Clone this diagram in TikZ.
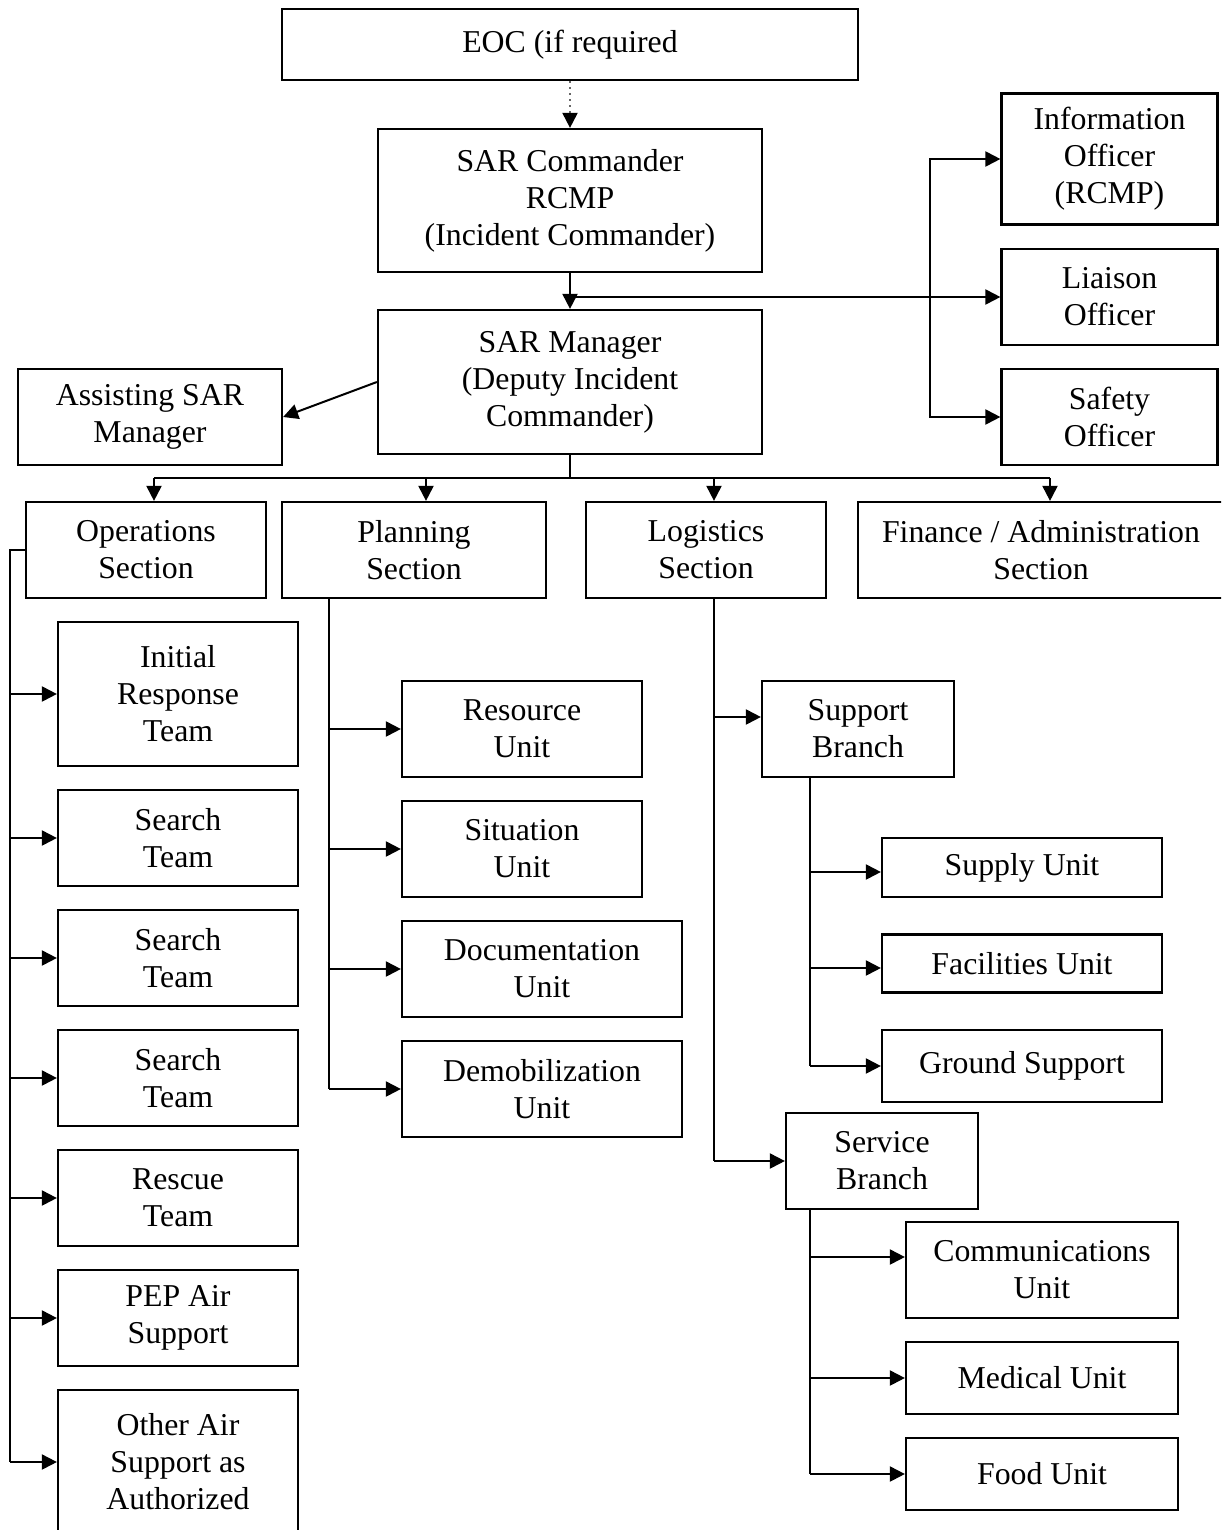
\documentclass[tikz,border=0pt]{standalone}
\usepackage{fontspec}
\setmainfont{Liberation Serif}
\usetikzlibrary{arrows.meta}

\begin{document}
\begin{tikzpicture}[x=0.5pt,y=-0.5pt,
  box/.style={draw, line width=1.1pt, fill=white, inner sep=0pt, align=center,
    font={\fontsize{15.9pt}{18.5pt}\selectfont}},
  sz/.style 2 args={minimum width={#1*0.5pt}, minimum height={#2*0.5pt}},
  line/.style={line width=1pt},
  arr/.style={line width=1pt, -{Triangle[length=7.5pt,width=7.5pt]}},
  darr/.style={line width=1pt, {Triangle[length=7.5pt,width=7.5pt]}-{Triangle[length=7.5pt,width=7.5pt]}},
  dotarr/.style={line width=1pt, dotted, draw=black!60, -{Triangle[length=7.5pt,width=7.5pt,color=black]}}]

\useasboundingbox (0,0) rectangle (1221,1530);
\clip (0,0) rectangle (1221,1530);
\fill[white] (0,0) rectangle (1221,1530);

% command level
\node[box, sz={576}{71}]  (eoc)  at (570,44.5) {EOC (if required};
\node[box, sz={384}{143}] (cmd)  at (570,200.5) {SAR Commander\\RCMP\\(Incident Commander)};
\node[box, sz={384}{144}] (mgr)  at (570,382) {SAR Manager\\(Deputy Incident\\Commander)};
\node[box, sz={264}{96}]  (asst) at (150,417) {Assisting SAR\\Manager};

% command staff
\node[box, sz={216}{131}] (info) at (1109.5,159) {Information\\Officer\\(RCMP)};
\node[box, sz={216}{96}]  (liai) at (1109.5,297) {Liaison\\Officer};
\node[box, sz={216}{96}]  (safe) at (1109.5,417) {Safety\\Officer};

% sections
\node[box, sz={240}{96}] (ops)  at (146,550) {Operations\\Section};
\node[box, sz={264}{96}] (plan) at (414,550) {Planning\\Section};
\node[box, sz={240}{96}] (logi) at (706,550) {Logistics\\Section};
\node[box, sz={366}{96}] (fin)  at (1041,550) {Finance / Administration\\Section};

% operations teams
\node[box, sz={240}{144}] (irt)    at (178,694)  {Initial\\Response\\Team};
\node[box, sz={240}{96}]  (st1)    at (178,838)  {Search\\Team};
\node[box, sz={240}{96}]  (st2)    at (178,958)  {Search\\Team};
\node[box, sz={240}{96}]  (st3)    at (178,1078) {Search\\Team};
\node[box, sz={240}{96}]  (rescue) at (178,1198) {Rescue\\Team};
\node[box, sz={240}{96}]  (pep)    at (178,1318) {PEP Air\\Support};
\node[box, sz={240}{144}] (oas)    at (178,1462) {Other Air\\Support as\\Authorized};

% planning units
\node[box, sz={240}{96}] (res)   at (522,729)  {Resource\\Unit};
\node[box, sz={240}{96}] (sit)   at (522,849)  {Situation\\Unit};
\node[box, sz={280}{96}] (doc)   at (542,969)  {Documentation\\Unit};
\node[box, sz={280}{96}] (demob) at (542,1089) {Demobilization\\Unit};

% logistics branches and units
\node[box, sz={192}{96}] (supb)   at (858,729)    {Support\\Branch};
\node[box, sz={280}{59}] (supply) at (1022,867.5) {Supply Unit};
\node[box, sz={280}{58}] (fac)    at (1022,963.5) {Facilities Unit};
\node[box, sz={280}{72}] (ground) at (1022,1066)  {Ground Support};
\node[box, sz={192}{96}] (servb)  at (882,1161)   {Service\\Branch};
\node[box, sz={272}{96}] (comm)   at (1042,1270)  {Communications\\Unit};
\node[box, sz={272}{72}] (med)    at (1042,1378)  {Medical Unit};
\node[box, sz={272}{72}] (food)   at (1042,1474)  {Food Unit};

% command chain
\draw[dotarr] (eoc) -- (cmd);
\draw[arr] (cmd) -- (mgr);
\draw[arr] (cmd.south |- liai) -- (liai);
\coordinate (vbar) at (930,0);
\draw[darr] (info.west) -- (vbar |- info.west) -- (vbar |- safe.west) -- (safe.west);
\draw[arr] (mgr.west) -- (asst.east);

% bus to the sections
\coordinate (bus) at (570,478);
\coordinate (opsin)  at ([xshift=4pt]ops.north);
\coordinate (planin) at ([xshift=6pt]plan.north);
\coordinate (logiin) at ([xshift=4pt]logi.north);
\coordinate (finin)  at ([xshift=4.5pt]fin.north);
\draw[line] (mgr.south) -- (bus);
\draw[line] (opsin |- bus) -- (finin |- bus);
\foreach \n in {opsin,planin,logiin,finin}
  \draw[arr] (\n |- bus) -- (\n);

% operations trunk
\coordinate (otr) at (10,0);
\draw[line] (ops.west) -- (otr |- ops.west) -- (otr |- oas.west);
\foreach \n in {irt,st1,st2,st3,rescue,pep,oas}
  \draw[arr] (otr |- \n.west) -- (\n.west);

% planning trunk
\coordinate (ptr) at ([xshift=24pt]plan.south west);
\draw[line] (ptr) -- (ptr |- demob.west);
\foreach \n in {res,sit,doc,demob}
  \draw[arr] (ptr |- \n.west) -- (\n.west);

% logistics trunk
\coordinate (ltr) at ([xshift=4pt]logi.south);
\coordinate (supbin) at ([yshift=6pt]supb.west);
\draw[line] (ltr) -- (ltr |- servb.west);
\draw[arr] (ltr |- supbin) -- (supbin);
\draw[arr] (ltr |- servb.west) -- (servb.west);

% support branch trunk
\coordinate (str) at ([xshift=-24pt]supb.south);
\coordinate (supplyin) at ([yshift=-2.25pt]supply.west);
\coordinate (facin)    at ([yshift=-2.25pt]fac.west);
\coordinate (groundin) at (ground.west);
\draw[line] (str) -- (str |- groundin);
\foreach \n in {supplyin,facin,groundin}
  \draw[arr] (str |- \n) -- (\n);

% service branch trunk
\coordinate (sstr) at ([xshift=-36pt]servb.south);
\coordinate (commin) at ([yshift=6.5pt]comm.west);
\coordinate (medin)  at (med.west);
\coordinate (foodin) at (food.west);
\draw[line] (sstr) -- (sstr |- foodin);
\foreach \n in {commin,medin,foodin}
  \draw[arr] (sstr |- \n) -- (\n);
\end{tikzpicture}
\end{document}
